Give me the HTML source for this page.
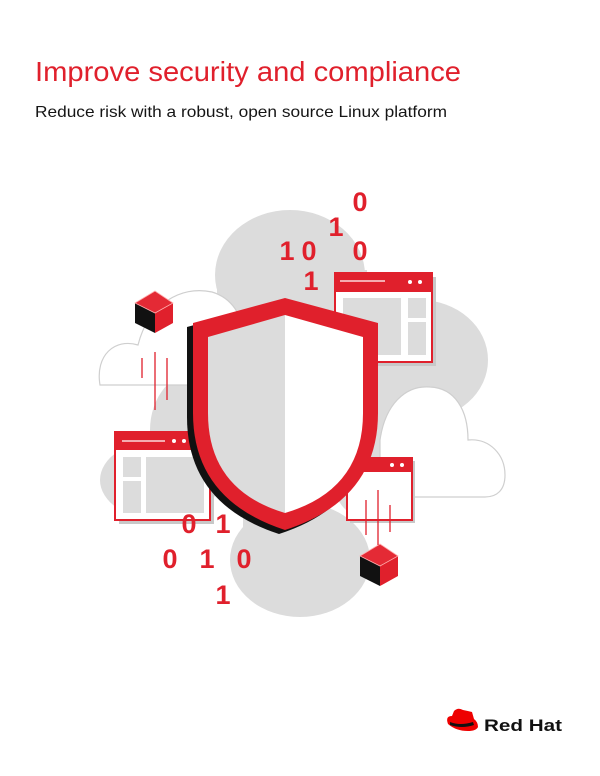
<!DOCTYPE html>
<html><head><style>html,body{margin:0;padding:0;background:#fff;}svg{display:block}</style></head>
<body>
<svg width="600" height="776" viewBox="0 0 600 776" xmlns="http://www.w3.org/2000/svg">
<text x="35" y="81" font-family="Liberation Sans, sans-serif" font-size="28" fill="#e0202c" textLength="426" lengthAdjust="spacingAndGlyphs">Improve security and compliance</text>
<text x="35" y="117" font-family="Liberation Sans, sans-serif" font-size="16" fill="#151515" textLength="412" lengthAdjust="spacingAndGlyphs">Reduce risk with a robust, open source Linux platform</text>

<!-- gray blob -->
<g fill="#dcdcdc">
<ellipse cx="290" cy="275" rx="75" ry="65"/>
<rect x="217" y="270" width="150" height="110"/>
<ellipse cx="420" cy="360" rx="68" ry="60"/>
<rect x="240" y="300" width="150" height="200"/>
<ellipse cx="300" cy="560" rx="70" ry="57"/>
<ellipse cx="160" cy="480" rx="60" ry="40"/>
<ellipse cx="200" cy="430" rx="50" ry="60"/>
<ellipse cx="370" cy="470" rx="40" ry="50"/>
</g>
<!-- clouds outline -->
<g fill="#fff" stroke="#cfcfcf" stroke-width="1.2">
<path d="M100 385 C95 355 115 338 138 345 C148 305 180 285 212 292 C232 298 242 315 244 335 L244 385 Z"/>
<path d="M380 497 L380 440 C385 405 405 385 430 387 C455 388 468 410 468 440 C490 438 505 455 505 475 C505 490 497 497 485 497 Z"/>
</g>
<rect x="243" y="330" width="60" height="200" fill="#dcdcdc"/>

<!-- top-right window -->
<rect x="339" y="277" width="97" height="89" fill="#c8c8c8"/>
<rect x="335" y="273" width="97" height="89" fill="#fff" stroke="#e0202c" stroke-width="2"/>
<rect x="335" y="273" width="97" height="19" fill="#e0202c"/>
<line x1="340" y1="281" x2="385" y2="281" stroke="#fff" stroke-width="1.2"/>
<circle cx="410" cy="282" r="2" fill="#fff"/><circle cx="420" cy="282" r="2" fill="#fff"/>
<rect x="343" y="298" width="58" height="57" fill="#dcdcdc"/>
<rect x="408" y="298" width="18" height="20" fill="#dcdcdc"/>
<rect x="408" y="322" width="18" height="33" fill="#dcdcdc"/>

<!-- left window -->
<rect x="119" y="436" width="95" height="88" fill="#c8c8c8"/>
<rect x="115" y="432" width="95" height="88" fill="#fff" stroke="#e0202c" stroke-width="2"/>
<rect x="115" y="432" width="95" height="18" fill="#e0202c"/>
<line x1="122" y1="441" x2="165" y2="441" stroke="#fff" stroke-width="1.2"/>
<circle cx="174" cy="441" r="2" fill="#fff"/><circle cx="184" cy="441" r="2" fill="#fff"/>
<rect x="123" y="457" width="18" height="20" fill="#dcdcdc"/>
<rect x="123" y="481" width="18" height="32" fill="#dcdcdc"/>
<rect x="146" y="457" width="58" height="56" fill="#dcdcdc"/>

<!-- bottom-right window -->
<rect x="350" y="461" width="65" height="62" fill="#c8c8c8"/>
<rect x="347" y="458" width="65" height="62" fill="#fff" stroke="#e0202c" stroke-width="2"/>
<rect x="347" y="458" width="65" height="14" fill="#e0202c"/>
<circle cx="392" cy="465" r="2" fill="#fff"/><circle cx="402" cy="465" r="2" fill="#fff"/>

<!-- shield -->
<path d="M193 323 L285 298 L378 323 L378 413 Q378 500 285 530 Q193 500 193 413 Z" fill="#111" transform="translate(-6,4)"/>
<path d="M193 323 L285 298 L378 323 L378 413 Q378 500 285 530 Q193 500 193 413 Z" fill="#e0202c"/>
<path d="M208 337 L285 315 L285 513 Q208 490 208 413 Z" fill="#dcdcdc"/>
<path d="M285 315 L363 337 L363 413 Q363 490 285 513 Z" fill="#fff"/>

<!-- cubes -->
<g>
<path d="M135 303 L155 313 L155 333 L135 323 Z" fill="#111"/>
<path d="M155 313 L173 303 L173 323 L155 333 Z" fill="#e0202c"/>
<path d="M135 303 L155 291 L173 303 L155 313 Z" fill="#e42a35" stroke="#ffb0b0" stroke-width="0.8"/>
</g>
<g transform="translate(225,253)">
<path d="M135 303 L155 313 L155 333 L135 323 Z" fill="#111"/>
<path d="M155 313 L173 303 L173 323 L155 333 Z" fill="#e0202c"/>
<path d="M135 303 L155 291 L173 303 L155 313 Z" fill="#e42a35" stroke="#ffb0b0" stroke-width="0.8"/>
</g>

<!-- falling lines -->
<g stroke="#e0202c" stroke-width="1.3">
<line x1="142" y1="358" x2="142" y2="378"/><line x1="155" y1="352" x2="155" y2="410"/><line x1="167" y1="358" x2="167" y2="400"/>
<line x1="366" y1="500" x2="366" y2="535"/><line x1="378" y1="490" x2="378" y2="545"/><line x1="390" y1="505" x2="390" y2="532"/>
</g>

<!-- digits -->
<g font-family="Liberation Sans, sans-serif" font-weight="bold" font-size="27" fill="#e0202c" text-anchor="middle">
<text x="360" y="211">0</text>
<text x="336" y="236">1</text>
<text x="287" y="260">1</text><text x="309" y="260">0</text>
<text x="360" y="260">0</text>
<text x="311" y="290">1</text>
<text x="189" y="533">0</text><text x="223" y="533">1</text>
<text x="170" y="568">0</text><text x="207" y="568">1</text><text x="244" y="568">0</text>
<text x="223" y="604">1</text>
</g>

<!-- Red Hat logo -->
<g>
<path d="M448 724 Q445 716 452 716 L454 711 Q458 707 463 710 Q468 711 472 712 L474 719 Q478 722 478 727 Q476 731 468 731 Q456 731 448 724 Z" fill="#ee0000"/>
<path d="M450 722 Q460 726 473 722 L474 725 Q462 729 450 725 Z" fill="#111"/>
<text x="484" y="731" font-family="Liberation Sans, sans-serif" font-weight="bold" font-size="17" fill="#111" textLength="78" lengthAdjust="spacingAndGlyphs">Red Hat</text>
</g>
</svg>
</body></html>
